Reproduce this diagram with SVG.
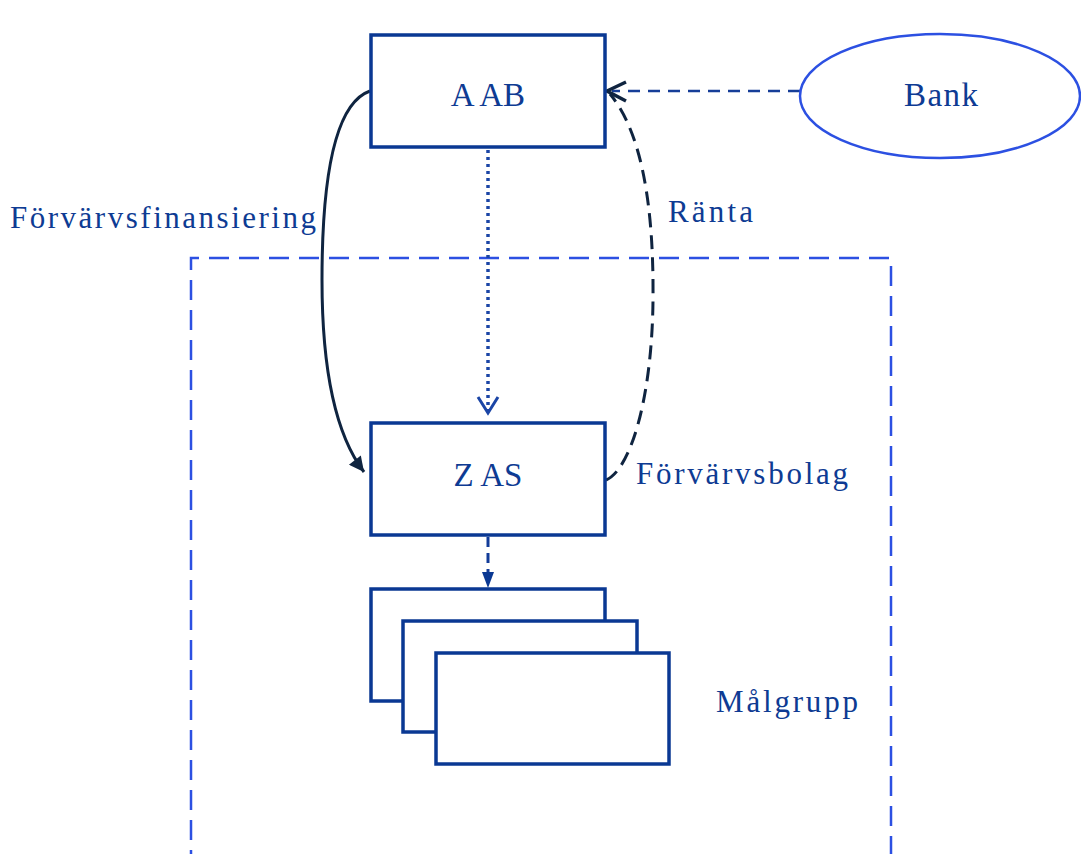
<svg xmlns="http://www.w3.org/2000/svg" width="1081" height="854" viewBox="0 0 1081 854">
  <style>
    .box { fill: #ffffff; stroke: #0a3893; stroke-width: 3.5; }
    .lbl { font-family: "Liberation Serif", "Times New Roman", serif; fill: #0e3b93; }
    .big { font-size: 33px; }
    .mid { font-size: 31px; }
    .navy { fill: none; stroke: #0f2440; stroke-width: 3; }
    .blue { fill: none; stroke: #123c99; stroke-width: 3; }
  </style>
  <defs>
    <marker id="solidHead" viewBox="0 0 10 10" refX="10" refY="5" markerWidth="6" markerHeight="5" markerUnits="strokeWidth" orient="auto">
      <path d="M0,0 L10,5 L0,10 Z" fill="#0f2440"/>
    </marker>
  </defs>

  <!-- group boundary -->
  <g id="boundary">
    <path d="M191,870 L191,258 L891,258 L891,870" fill="none" stroke="#2c50e2" stroke-width="2.5" stroke-dasharray="20 10"/>
  </g>

  <!-- connectors -->
  <g id="connectors">
    <!-- financing: A AB -> Z AS -->
    <path class="navy" d="M370,91 C 330,105 322,200 322,280 C 322,380 338,438 364,472" marker-end="url(#solidHead)"/>
    <!-- ownership, dotted -->
    <path d="M488,150 L488,412" fill="none" stroke="#1b45a6" stroke-width="3.5" stroke-dasharray="3 4"/>
    <path d="M478,397 L488,413 L498,397" fill="none" stroke="#1b45a6" stroke-width="3" stroke-linejoin="miter"/>
    <!-- Z AS -> target group -->
    <path class="blue" d="M488,537 L488,574" stroke-dasharray="10 6"/>
    <path d="M482,572 L494,572 L488,588 Z" fill="#0a3893"/>
    <!-- bank loan -->
    <path d="M800,91 L612,91" fill="none" stroke="#163e98" stroke-width="2.5" stroke-dasharray="12 8"/>
    <!-- interest: Z AS -> A AB -->
    <path class="navy" d="M606,480 C 630,470 652,400 653,300 C 654,200 640,130 610,94" stroke-dasharray="14 8"/>
    <path d="M626,82 L607,91 L626,101" fill="none" stroke="#0f2440" stroke-width="3.5" stroke-linejoin="miter"/>
  </g>

  <g id="node-aab">
    <rect class="box" x="371" y="35" width="234" height="112"/>
    <text class="lbl big" x="488" y="106" text-anchor="middle">A AB</text>
  </g>

  <g id="node-bank">
    <ellipse cx="940" cy="96" rx="140" ry="62" fill="#ffffff" stroke="#2c50e2" stroke-width="2.5"/>
    <text class="lbl big" x="904" y="106" textLength="74" lengthAdjust="spacing">Bank</text>
  </g>

  <g id="node-zas">
    <rect class="box" x="371" y="423" width="234" height="112"/>
    <text class="lbl big" x="488" y="486" text-anchor="middle">Z AS</text>
  </g>

  <g id="node-malgrupp">
    <rect class="box" x="371" y="589" width="234" height="112"/>
    <rect class="box" x="403" y="621" width="234" height="111"/>
    <rect class="box" x="436" y="653" width="233" height="111"/>
  </g>

  <g id="labels">
    <text class="lbl mid" x="10" y="228" textLength="306" lengthAdjust="spacing">Förvärvsfinansiering</text>
    <text class="lbl mid" x="668" y="222" textLength="85" lengthAdjust="spacing">Ränta</text>
    <text class="lbl mid" x="636" y="484" textLength="212" lengthAdjust="spacing">Förvärvsbolag</text>
    <text class="lbl mid" x="716" y="712" textLength="142" lengthAdjust="spacing">Målgrupp</text>
  </g>
</svg>
